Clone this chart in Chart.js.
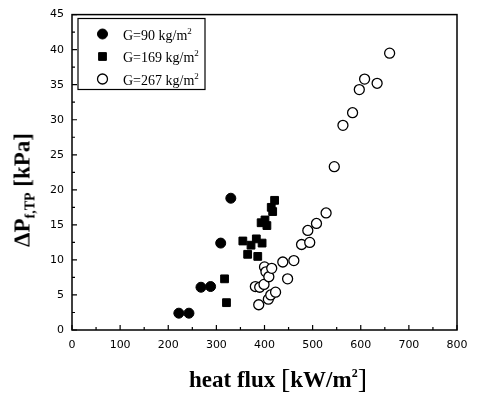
<!DOCTYPE html>
<html>
<head>
<meta charset="utf-8">
<script src="https://cdn.jsdelivr.net/npm/chart.js@4.4.1/dist/chart.umd.min.js"></script>
<style>
  html, body { margin:0; padding:0; background:#fff; }
  #wrap { position:relative; width:479px; height:397px; }
  canvas { position:absolute; left:0; top:0; }
  .t { position:absolute; font-family:"Liberation Serif","Times New Roman",serif; color:#000; white-space:nowrap; }
  #xt { left:0; width:479px; top:362px; text-align:center; font-weight:bold; font-size:23px; padding-left:77px; box-sizing:border-box; }
  #xt .br { font-size:28px; font-weight:normal; position:relative; top:1px; }
  #yt { left:24px; top:190px; font-weight:bold; font-size:23px; transform:translate(-50%,-50%) rotate(-90deg); }
  #yt sub { font-size:14px; vertical-align:-5px; }
  #xt sup { font-size:12px; vertical-align:10px; }
  .lg { font-size:14px; left:123px; }
  .lg sup { font-size:9px; vertical-align:6px; }
</style>
</head>
<body>
<div id="wrap">
  <canvas id="c" width="479" height="397"></canvas>
  <div class="t" id="xt">heat flux <span class="br">[</span>kW/m<sup>2</sup><span class="br">]</span></div>
  <div class="t" id="yt">&Delta;P<sub>f,TP</sub> [kPa]</div>
  <div class="t lg" id="l0" style="top:26px">G=90 kg/m<sup>2</sup></div>
  <div class="t lg" id="l1" style="top:48px">G=169 kg/m<sup>2</sup></div>
  <div class="t lg" id="l2" style="top:71px">G=267 kg/m<sup>2</sup></div>
</div>
<script>
// ---- data ----
const seriesNames = ["G=90 kg/m²", "G=169 kg/m²", "G=267 kg/m²"];
const g90x = [222, 243, 268, 288, 309, 330];
const g90y = [2.4, 2.4, 6.1, 6.2, 12.4, 18.8];
const g169x = [317, 321, 355, 365, 372, 383, 386, 395, 393, 401, 405, 414, 417, 421];
const g169y = [7.3, 3.9, 12.7, 10.8, 12.1, 13.0, 10.5, 12.4, 15.3, 15.7, 14.9, 17.5, 16.9, 18.5];
const g267x = [388, 381, 390, 399, 400, 403, 409, 415, 408, 413, 423, 438, 448, 461, 477, 490, 494, 508, 528, 545, 563, 583, 597, 608, 634, 660];
const g267y = [3.6, 6.2, 6.1, 6.5, 9.0, 8.3, 7.6, 8.8, 4.4, 5.0, 5.4, 9.7, 7.3, 9.9, 12.2, 14.2, 12.5, 15.2, 16.7, 23.3, 29.2, 31.0, 34.3, 35.8, 35.2, 39.5];
const xTicks = [0, 100, 200, 300, 400, 500, 600, 700, 800];
const yTicks = [0, 5, 10, 15, 20, 25, 30, 35, 40, 45];

const pts = (xs, ys) => xs.map((x, i) => ({x: x, y: ys[i]}));

const frame = {
  id: 'frame',
  afterDraw(chart) {
    const ctx = chart.ctx, a = chart.chartArea;
    const xs = chart.scales.x, ys = chart.scales.y;
    ctx.save();
    ctx.strokeStyle = '#000';
    ctx.lineWidth = 1.5;
    ctx.strokeRect(a.left, a.top, a.right - a.left, a.bottom - a.top);
    ctx.lineWidth = 1.2;
    ctx.beginPath();
    for (let v = 0; v <= 800; v += 50) {
      const p = xs.getPixelForValue(v);
      const len = (v % 100 === 0) ? 5 : 3;
      ctx.moveTo(p, a.bottom); ctx.lineTo(p, a.bottom - len);
    }
    for (let v = 0; v <= 45; v += 2.5) {
      const p = ys.getPixelForValue(v);
      const len = (v % 5 === 0) ? 5 : 3;
      ctx.moveTo(a.left, p); ctx.lineTo(a.left + len, p);
    }
    ctx.stroke();
    // legend box
    ctx.lineWidth = 1.2;
    ctx.strokeRect(78, 18.5, 127, 71);
    const rowsY = [34, 56.5, 79];
    chart.data.datasets.forEach((ds, i) => {
      ctx.fillStyle = ds.backgroundColor;
      ctx.strokeStyle = ds.borderColor;
      ctx.lineWidth = ds.borderWidth;
      Chart.helpers.drawPoint(ctx, {pointStyle: ds.pointStyle, radius: ds.pointRadius, borderWidth: ds.borderWidth}, 102.5, rowsY[i]);
    });
    ctx.restore();
  }
};

new Chart(document.getElementById('c'), {
  type: 'scatter',
  data: {
    datasets: [
      { label: seriesNames[0], data: pts(g90x, g90y), pointStyle: 'circle', pointRadius: 5, backgroundColor: '#000', borderColor: '#000', borderWidth: 1 },
      { label: seriesNames[1], data: pts(g169x, g169y), pointStyle: 'rect', pointRadius: 5.5, backgroundColor: '#000', borderColor: '#000', borderWidth: 1 },
      { label: seriesNames[2], data: pts(g267x, g267y), pointStyle: 'circle', pointRadius: 5, backgroundColor: '#fff', borderColor: '#000', borderWidth: 1.3 }
    ]
  },
  options: {
    responsive: false,
    animation: false,
    devicePixelRatio: 1,
    layout: { padding: { top: 12, right: 22, left: 0, bottom: 0 } },
    plugins: { legend: { display: false }, tooltip: { enabled: false } },
    scales: {
      x: {
        type: 'linear', min: 0, max: 800,
        afterFit: s => { s.height = 67; },
        afterBuildTicks: s => { s.ticks = xTicks.map(v => ({value: v})); },
        grid: { display: false, drawTicks: false },
        border: { display: false },
        ticks: { padding: 9, color: '#000', font: { family: 'DejaVu Sans', size: 11 } }
      },
      y: {
        type: 'linear', min: 0, max: 45,
        afterFit: s => { s.width = 72; },
        afterBuildTicks: s => { s.ticks = yTicks.map(v => ({value: v})); },
        grid: { display: false, drawTicks: false },
        border: { display: false },
        ticks: { padding: 8, color: '#000', font: { family: 'DejaVu Sans', size: 11 } }
      }
    }
  },
  plugins: [frame]
});
</script>
</body>
</html>
